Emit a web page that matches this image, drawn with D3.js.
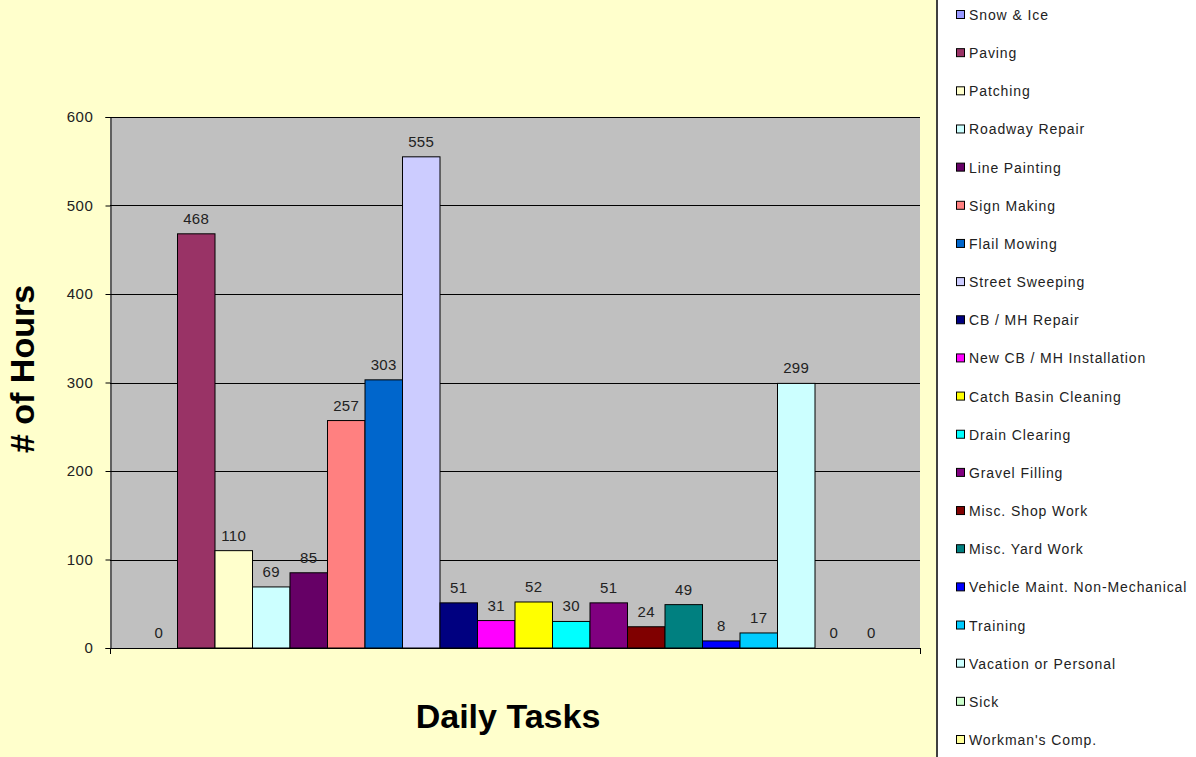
<!DOCTYPE html>
<html>
<head>
<meta charset="utf-8">
<script src="https://cdn.jsdelivr.net/npm/d3@7"></script>
<style>
  html, body { margin: 0; padding: 0; background: #FFFFCC; }
  svg { display: block; font-family: Arial, "Liberation Sans", sans-serif; }
</style>
</head>
<body>
<div id="chart"></div>
<script>
// --- Data ---
const tasks = [
  "Snow & Ice", "Paving", "Patching", "Roadway Repair", "Line Painting",
  "Sign Making", "Flail Mowing", "Street Sweeping", "CB / MH Repair",
  "New CB / MH Installation", "Catch Basin Cleaning", "Drain Clearing",
  "Gravel Filling", "Misc. Shop Work", "Misc. Yard Work",
  "Vehicle Maint. Non-Mechanical", "Training", "Vacation or Personal",
  "Sick", "Workman's Comp."
];
const hours = [0, 468, 110, 69, 85, 257, 303, 555, 51, 31, 52, 30, 51, 24, 49, 8, 17, 299, 0, 0];
const colors = [
  "#9999FF", "#993366", "#FFFFCC", "#CCFFFF", "#660066",
  "#FF8080", "#0066CC", "#CCCCFF", "#000080", "#FF00FF",
  "#FFFF00", "#00FFFF", "#800080", "#800000", "#008080",
  "#0000FF", "#00CCFF", "#CCFFFF", "#CCFFCC", "#FFFF99"
];
const yTicks = [0, 100, 200, 300, 400, 500, 600];

const W = 1196, H = 757;
const plot = {left: 110, right: 920, top: 117, bottom: 648};

const svg = d3.select("#chart").append("svg")
    .attr("width", W)
    .attr("height", H);

svg.append("rect").attr("width", W).attr("height", H).attr("fill", "#FFFFCC");

// --- Scales ---
const xScale = d3.scaleBand()
    .domain(tasks)
    .range([plot.left, plot.right])
    .paddingInner(0)
    .paddingOuter(0.8);

const yScale = d3.scaleLinear()
    .domain([0, 600])
    .range([plot.bottom, plot.top]);

// plot area
svg.append("rect")
    .attr("x", plot.left).attr("y", plot.top)
    .attr("width", plot.right - plot.left)
    .attr("height", plot.bottom - plot.top)
    .attr("fill", "#C0C0C0");

// gridlines
svg.append("g")
  .selectAll("line")
  .data(yTicks.filter(d => d > 0))
  .join("line")
    .attr("x1", plot.left).attr("x2", plot.right)
    .attr("y1", d => Math.round(yScale(d)) + 0.5)
    .attr("y2", d => Math.round(yScale(d)) + 0.5)
    .attr("stroke", "#000").attr("stroke-width", 1);

// y axis
const yAxis = d3.axisLeft(yScale).tickValues(yTicks).tickSize(5).tickPadding(12);
const gy = svg.append("g")
    .attr("transform", `translate(${plot.left + 0.5},0)`)
    .call(yAxis);
gy.select(".domain").attr("stroke", "#000");
gy.selectAll(".tick line").attr("stroke", "#000");
gy.selectAll(".tick text")
    .attr("font-size", 15)
    .attr("letter-spacing", 0.6)
    .attr("fill", "#222")
    .attr("font-family", "Arial, 'Liberation Sans', sans-serif");

// bars
svg.append("g")
  .selectAll("rect")
  .data(tasks)
  .join("rect")
    .attr("x", (d) => xScale(d))
    .attr("y", (d, i) => yScale(hours[i]))
    .attr("width", xScale.bandwidth())
    .attr("height", (d, i) => yScale(0) - yScale(hours[i]))
    .attr("fill", (d, i) => colors[i])
    .attr("stroke", "#000")
    .attr("stroke-width", 1);

// x axis line with end ticks
svg.append("line")
    .attr("x1", plot.left).attr("x2", plot.right)
    .attr("y1", plot.bottom + 0.5).attr("y2", plot.bottom + 0.5)
    .attr("stroke", "#000");
svg.append("g")
  .selectAll("line")
  .data([plot.left, plot.right])
  .join("line")
    .attr("x1", d => d + 0.5).attr("x2", d => d + 0.5)
    .attr("y1", plot.bottom).attr("y2", plot.bottom + 6)
    .attr("stroke", "#000");

// data labels
svg.append("g")
  .selectAll("text")
  .data(tasks)
  .join("text")
    .attr("x", d => xScale(d) + xScale.bandwidth() / 2)
    .attr("y", (d, i) => yScale(hours[i]) - 10)
    .attr("text-anchor", "middle")
    .attr("font-size", 15)
    .attr("letter-spacing", 0.4)
    .attr("fill", "#222")
    .text((d, i) => hours[i]);

// axis titles
svg.append("text")
    .attr("transform", "translate(34,369) rotate(-90)")
    .attr("text-anchor", "middle")
    .attr("font-size", 34)
    .attr("font-weight", "bold")
    .attr("fill", "#000")
    .text("# of Hours");

svg.append("text")
    .attr("x", 508).attr("y", 728)
    .attr("text-anchor", "middle")
    .attr("font-size", 34)
    .attr("font-weight", "bold")
    .attr("fill", "#000")
    .text("Daily Tasks");

// --- Legend ---
const legend = svg.append("g");
legend.append("rect")
    .attr("x", 937).attr("y", -5)
    .attr("width", 280).attr("height", H + 10)
    .attr("fill", "#FFFFFF")
    .attr("stroke", "#404040")
    .attr("stroke-width", 2);

const legendY = d3.scalePoint().domain(tasks).range([15, 740]);

const items = legend.selectAll("g.item")
  .data(tasks)
  .join("g")
    .attr("class", "item")
    .attr("transform", d => `translate(0,${legendY(d)})`);

items.append("rect")
    .attr("x", 956.5).attr("y", -4.5)
    .attr("width", 8).attr("height", 8)
    .attr("fill", (d, i) => colors[i])
    .attr("stroke", "#000");

items.append("text")
    .attr("x", 969).attr("y", 5)
    .attr("font-size", 14)
    .attr("letter-spacing", 0.9)
    .attr("fill", "#222")
    .text(d => d);
</script>
</body>
</html>
